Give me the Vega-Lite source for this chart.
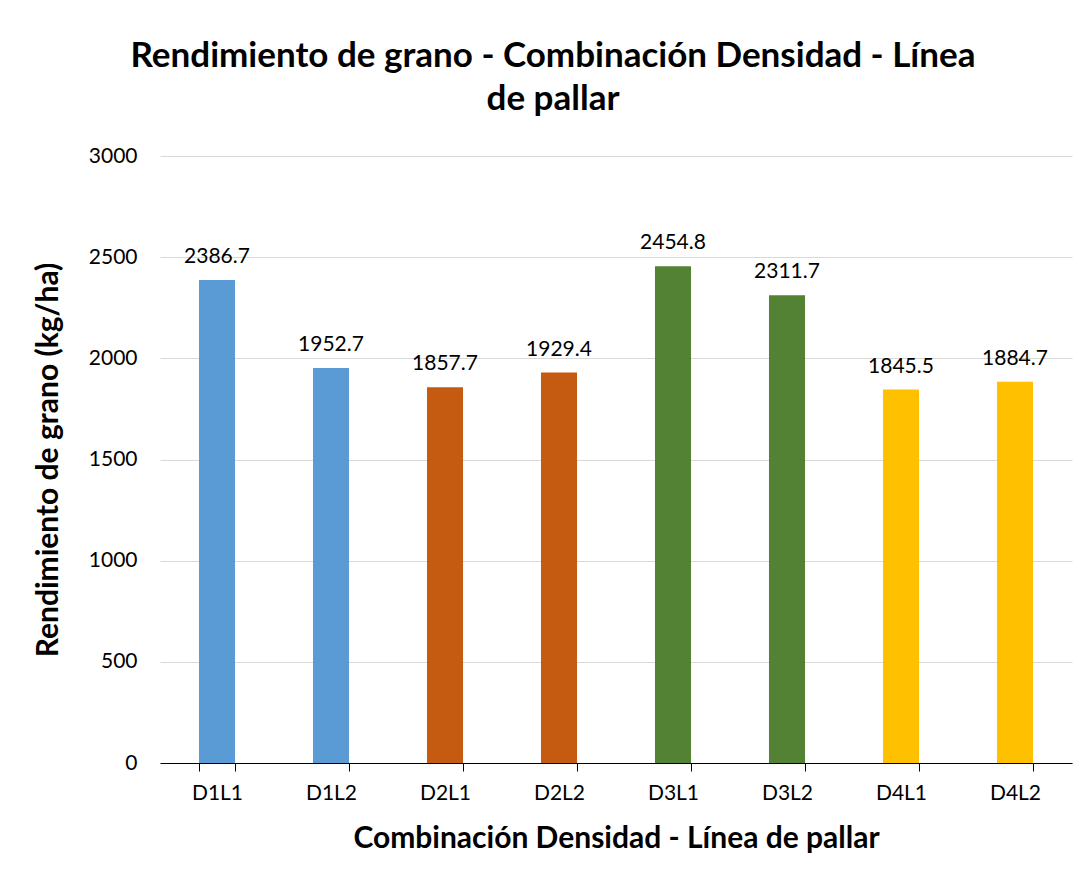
{
  "$schema": "https://vega.github.io/schema/vega-lite/v6.json",
  "width": 912,
  "height": 607,
  "autosize": {"type": "none"},
  "padding": {"left": 160, "top": 156, "right": 17, "bottom": 119},
  "background": "white",
  "title": {
    "text": ["Rendimiento de grano - Combinación Densidad - Línea", "de pallar"],
    "font": "Lato",
    "fontSize": 35,
    "fontWeight": "bold",
    "color": "#000000",
    "anchor": "middle",
    "frame": "group",
    "dx": -63,
    "offset": 28,
    "lineHeight": 43
  },
  "data": {
    "values": [
      {"combo": "D1L1", "grupo": "D1", "valor": 2386.7},
      {"combo": "D1L2", "grupo": "D1", "valor": 1952.7},
      {"combo": "D2L1", "grupo": "D2", "valor": 1857.7},
      {"combo": "D2L2", "grupo": "D2", "valor": 1929.4},
      {"combo": "D3L1", "grupo": "D3", "valor": 2454.8},
      {"combo": "D3L2", "grupo": "D3", "valor": 2311.7},
      {"combo": "D4L1", "grupo": "D4", "valor": 1845.5},
      {"combo": "D4L2", "grupo": "D4", "valor": 1884.7}
    ]
  },
  "encoding": {
    "x": {
      "field": "combo",
      "type": "nominal",
      "sort": null,
      "scale": {"paddingInner": 0.684, "paddingOuter": 0.342},
      "axis": {
        "title": "Combinación Densidad - Línea de pallar",
        "titleFont": "Lato",
        "titleFontSize": 30,
        "titleFontWeight": "bold",
        "titleColor": "#000000",
        "titlePadding": 20,
        "labelFont": "Lato",
        "labelFontSize": 21,
        "labelColor": "#000000",
        "labelAngle": 0,
        "labelPadding": 11,
        "domainColor": "#000000",
        "tickColor": "#000000",
        "tickSize": 8,
        "tickBand": "extent",
        "grid": false
      }
    },
    "y": {
      "field": "valor",
      "type": "quantitative",
      "scale": {"domain": [0, 3000], "nice": false},
      "axis": {
        "title": "Rendimiento de grano (kg/ha)",
        "titleFont": "Lato",
        "titleFontSize": 30,
        "titleFontWeight": "bold",
        "titleColor": "#000000",
        "titlePadding": 25,
        "values": [0, 500, 1000, 1500, 2000, 2500, 3000],
        "format": "d",
        "labelFont": "Lato",
        "labelFontSize": 21,
        "labelColor": "#000000",
        "labelPadding": 23,
        "domain": false,
        "ticks": false,
        "gridColor": "#D9D9D9",
        "gridWidth": 1
      }
    }
  },
  "layer": [
    {
      "mark": {"type": "bar"},
      "encoding": {
        "color": {
          "field": "grupo",
          "type": "nominal",
          "scale": {"domain": ["D1", "D2", "D3", "D4"], "range": ["#5B9BD5", "#C55A11", "#548235", "#FFC000"]},
          "legend": null
        }
      }
    },
    {
      "mark": {"type": "text", "font": "Lato", "fontSize": 21, "color": "#000000", "baseline": "alphabetic", "dy": -17},
      "encoding": {
        "text": {"field": "valor", "type": "quantitative", "format": ".1f"}
      }
    }
  ],
  "config": {"view": {"stroke": null}}
}
